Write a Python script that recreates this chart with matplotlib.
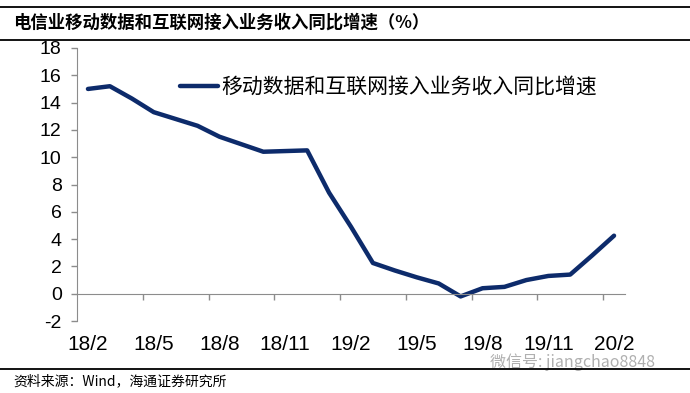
import matplotlib
matplotlib.use('Agg')
import matplotlib.pyplot as plt
from matplotlib.lines import Line2D

plt.rcParams['font.family'] = ['Liberation Sans Narrow', 'Liberation Sans', 'Noto Sans CJK SC', 'DejaVu Sans']
plt.rcParams['axes.unicode_minus'] = False

# 数据：月度同比增速（%）
months = ['18/2', '18/3', '18/4', '18/5', '18/6', '18/7', '18/8', '18/9', '18/10',
          '18/11', '18/12', '19/1', '19/2', '19/3', '19/4', '19/5', '19/6', '19/7',
          '19/8', '19/9', '19/10', '19/11', '19/12', '20/1', '20/2']
growth = [15.0, 15.2, 14.3, 13.3, 12.8, 12.3, 11.5, 10.95, 10.4,
          10.45, 10.5, 7.4, 4.9, 2.25, 1.7, 1.2, 0.75, -0.2,
          0.4, 0.5, 1.0, 1.3, 1.4, 2.8, 4.25]
yticks = list(range(-2, 19, 2))
series_name = '移动数据和互联网接入业务收入同比增速'
title = '电信业移动数据和互联网接入业务收入同比增速（%）'
source = '资料来源：Wind，海通证券研究所'

W, H = 690, 393
fig = plt.figure(figsize=(6.9, 3.93), dpi=100)
ax = fig.add_axes([77 / W, 1 - 321 / H, (625 - 77) / W, (321 - 48) / H])

x = list(range(len(months)))
ax.plot(x, growth, color='#0D2B6B', linewidth=3.2, solid_capstyle='round',
        solid_joinstyle='round', label=series_name)

ax.set_xlim(-0.5, len(months) - 0.5)
ax.set_ylim(-2, 18)

# 坐标轴样式
for s in ['top', 'right']:
    ax.spines[s].set_visible(False)
ax.spines['bottom'].set_position(('data', 0))
ax.spines['bottom'].set_color('#8c8c8c')
ax.spines['left'].set_color('#8c8c8c')

ax.set_yticks(yticks)
ax.tick_params(axis='y', direction='out', length=4, width=1, color='#8c8c8c',
               labelsize=14, pad=7)

major = x[::3]
ax.set_xticks(major)
ax.set_xticklabels([months[i] for i in major])
ax.set_xticks([i - 0.5 for i in range(3, len(months) + 1, 3)], minor=True)
ax.tick_params(axis='x', which='major', length=0, labelsize=15, pad=30)
ax.tick_params(axis='x', which='minor', direction='out', length=4, width=1,
               color='#8c8c8c')

ax.legend(loc='center left', bbox_to_anchor=((180 - 77) / 548, (321 - 87) / 273),
          frameon=False, borderpad=0, borderaxespad=0,
          handlelength=1.8, handletextpad=0.2,
          prop={'family': 'Noto Sans CJK SC', 'size': 15})

# 标题与分隔线
fig.text(13 / W, 1 - 23 / H, title, fontsize=12.5, fontweight='bold',
         family='Noto Sans CJK SC', va='center', ha='left')
for yy in [7, 40, 369]:
    fig.add_artist(Line2D([0, 1], [1 - yy / H, 1 - yy / H],
                          color='black', linewidth=1.3))
fig.text(13 / W, 1 - 381 / H, source, fontsize=10,
         family=['Noto Sans CJK SC', 'Liberation Sans'], va='center', ha='left')

# 水印
fig.text(490 / W, 1 - 362 / H, '微信号: jiangchao8848', fontsize=11.5,
         color='#b0b0b0', family=['Noto Sans CJK SC', 'DejaVu Sans'],
         va='center', ha='left', zorder=0)

fig.savefig('out.png', dpi=100)
